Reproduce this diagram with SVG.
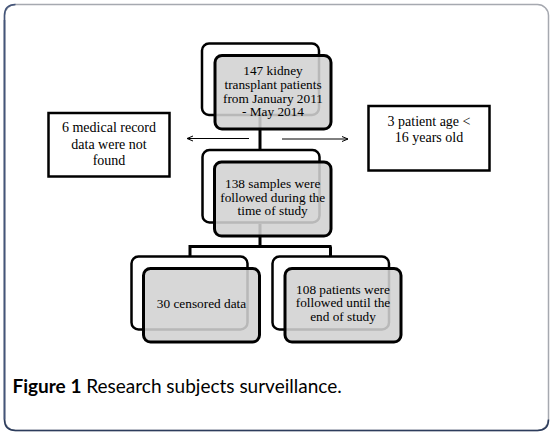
<svg xmlns="http://www.w3.org/2000/svg" width="554" height="436" viewBox="0 0 554 436">
<defs>
<style>
.back{fill:#ffffff;stroke:#000;stroke-width:2.5}
.front{fill:#d2d2d2;fill-opacity:0.88;stroke:#000;stroke-width:3}
.side{fill:#fff;stroke:#000;stroke-width:2.5}
.t{font-family:"Liberation Serif","Times New Roman",serif;font-size:13.3px;fill:#000;text-anchor:middle}
.ts{font-family:"Liberation Serif","Times New Roman",serif;font-size:14px;fill:#000;text-anchor:middle}
.conn{stroke:#000;stroke-width:3;fill:none}
.arr{stroke:#000;stroke-width:1;fill:none}
.cap{font-family:Lato,"Open Sans",sans-serif;font-size:19px;fill:#000}
</style>
<marker id="ah" viewBox="0 0 8 8" refX="7" refY="4" markerWidth="8" markerHeight="8" markerUnits="userSpaceOnUse" orient="auto">
<path d="M1,1.5 L7,4 L1,6.5" fill="none" stroke="#000" stroke-width="1"/>
</marker>
</defs>
<rect width="554" height="436" fill="#fff"/>
<rect x="4.5" y="4.5" width="544" height="426" rx="11" fill="none" stroke="#a6a9b0" stroke-width="1.5"/>
<path d="M4.5,20 L4.5,419.5 Q4.5,430.5 15.5,430.5 L537.5,430.5 Q548.5,430.5 548.5,419.5" fill="none" stroke="#2c3c5c" stroke-width="1.5"/>
<path d="M4.5,419.5 L4.5,15.5 Q4.5,4.5 15.5,4.5" fill="none" stroke="#44557a" stroke-width="1.5"/>
<g id="connectors">
<path class="conn" d="M260,100 L260,150"/>
<path class="conn" d="M260,224 L260,246.5 M188.5,246.5 L331.5,246.5 M190,246.5 L190,257 M330.5,246.5 L330.5,257"/>
<path class="arr" d="M249,138.5 L187,138.5" marker-end="url(#ah)"/>
<path class="arr" d="M282,139 L348,139" marker-end="url(#ah)"/>
</g>
<g id="node-147">
<rect class="back" x="202" y="43.5" width="117" height="71.5" rx="7"/>
<rect class="front" x="215" y="55.5" width="116" height="73.5" rx="7"/>
<text class="t"><tspan x="273" y="75">147 kidney</tspan><tspan x="273" y="88.5">transplant patients</tspan><tspan x="273" y="102.5">from January 2011</tspan><tspan x="273" y="116">- May 2014</tspan></text>
</g>
<g id="node-6">
<rect class="side" x="48.5" y="113" width="121" height="63.5"/>
<text class="ts"><tspan x="109" y="132">6 medical record</tspan><tspan x="109" y="149">data were not</tspan><tspan x="109" y="165">found</tspan></text>
</g>
<g id="node-3">
<rect class="side" x="368.5" y="106" width="121" height="64.5"/>
<text class="ts"><tspan x="429" y="126">3 patient age &lt;</tspan><tspan x="429" y="141.7">16 years old</tspan></text>
</g>
<g id="node-138">
<rect class="back" x="202.5" y="150" width="117" height="72.5" rx="7"/>
<rect class="front" x="214.5" y="162" width="116.5" height="74" rx="7"/>
<text class="t"><tspan x="272.7" y="188">138 samples were</tspan><tspan x="272.7" y="201.5">followed during the</tspan><tspan x="272.7" y="215">time of study</tspan></text>
</g>
<g id="node-30">
<rect class="back" x="131.5" y="256.5" width="116" height="73" rx="7"/>
<rect class="front" x="143.5" y="268.5" width="116" height="73.5" rx="7"/>
<text class="t"><tspan x="201.5" y="308.3">30 censored data</tspan></text>
</g>
<g id="node-108">
<rect class="back" x="272.5" y="256.5" width="116.5" height="73" rx="7"/>
<rect class="front" x="285" y="268.5" width="116" height="73.5" rx="7"/>
<text class="t"><tspan x="343" y="293.5">108 patients were</tspan><tspan x="343" y="307.1">followed until the</tspan><tspan x="343" y="320.7">end of study</tspan></text>
</g>
<text class="cap" x="12.5" y="392.5"><tspan font-weight="bold">Figure 1</tspan> Research subjects surveillance.</text>
</svg>
